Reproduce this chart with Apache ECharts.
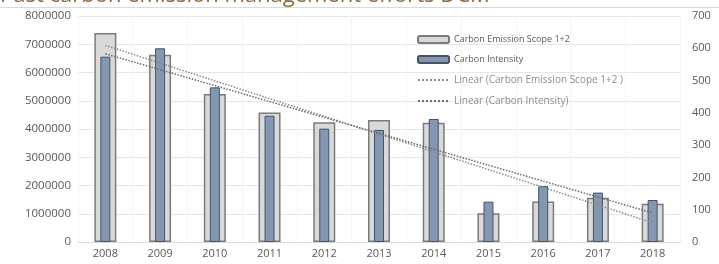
<!DOCTYPE html>
<html>
<head>
<meta charset="utf-8">
<script src="https://cdn.jsdelivr.net/npm/echarts@6/dist/echarts.min.js"></script>
<style>
  html, body { margin: 0; padding: 0; background: #fff; }
  #main { width: 719px; height: 264px; }
</style>
</head>
<body>
<div id="main"></div>
<script>
// years on the x axis
var years = ['2008', '2009', '2010', '2011', '2012', '2013', '2014', '2015', '2016', '2017', '2018'];
// Carbon Emission Scope 1+2 (left axis)
var emission = [7400000, 6630000, 5240000, 4580000, 4240000, 4320000, 4220000, 1020000, 1430000, 1570000, 1350000];
// Carbon Intensity (right axis)
var intensity = [574, 600, 479, 391, 351, 347, 381, 125, 173, 153, 130];
// trend line ends: [first year, last year]
var emissionTrend = [6960000, 680000];
var intensityTrend = [583, 90];
var leftTicks = { min: 0, max: 8000000, interval: 1000000 };
var rightTicks = { min: 0, max: 700, interval: 100 };

var myChart = echarts.init(document.getElementById('main'));
var labelColor = '#595959';
var option = {
    animation: false,
    textStyle: { fontFamily: 'Open Sans' },
    graphic: [
        {
            type: 'text', left: 0, top: -15,
            style: { text: 'Past carbon emission management efforts DCM', fontSize: 22, fill: '#8b6a3c', fontFamily: 'Open Sans' }
        },
        {
            type: 'rect', left: 0, top: 7,
            shape: { width: 719, height: 1 },
            style: { fill: '#e2d8c8' }
        }
    ],
    grid: { left: 78, right: 39, top: 16, bottom: 22 },
    legend: {
        orient: 'vertical',
        left: 412, top: 30,
        itemWidth: 31, itemHeight: 7, itemGap: 11,
        textStyle: { color: labelColor, fontSize: 9 },
        data: [
            { name: 'Carbon Emission Scope 1+2' },
            { name: 'Carbon Intensity' },
            { name: 'Linear (Carbon Emission Scope 1+2 )', itemStyle: { opacity: 0 }, textStyle: { color: '#8c8c8c', fontSize: 10 } },
            { name: 'Linear (Carbon Intensity)', itemStyle: { opacity: 0 }, textStyle: { color: '#8c8c8c', fontSize: 10 } }
        ]
    },
    xAxis: [
        {
            type: 'category', data: years,
            axisLine: { lineStyle: { color: '#d9d9d9' } },
            axisTick: { show: false },
            axisLabel: { color: labelColor, fontSize: 11, margin: 6 },
            splitLine: { show: true, lineStyle: { color: '#f5f5f5' } }
        },
        { type: 'category', data: years, show: false }
    ],
    yAxis: [
        {
            type: 'value', min: leftTicks.min, max: leftTicks.max, interval: leftTicks.interval,
            axisLabel: { color: labelColor, fontSize: 11.5, margin: 7, formatter: function (v) { return String(v); } },
            splitLine: { lineStyle: { color: '#e6e6e6' } }
        },
        {
            type: 'value', min: rightTicks.min, max: rightTicks.max, interval: rightTicks.interval,
            axisLabel: { color: labelColor, fontSize: 11, margin: 12 },
            splitLine: { show: false }
        }
    ],
    series: [
        {
            name: 'Carbon Emission Scope 1+2', type: 'bar',
            xAxisIndex: 0, yAxisIndex: 0, barWidth: 22,
            itemStyle: { color: '#d9d9d9', borderColor: '#7b7b7b', borderWidth: 1.5 },
            data: emission
        },
        {
            name: 'Carbon Intensity', type: 'bar',
            xAxisIndex: 1, yAxisIndex: 1, barWidth: 10,
            itemStyle: { color: '#8496b0', borderColor: '#44546a', borderWidth: 1 },
            data: intensity, z: 3
        },
        {
            name: 'Linear (Carbon Emission Scope 1+2 )', type: 'line',
            xAxisIndex: 0, yAxisIndex: 0, symbol: 'none',
            lineStyle: { color: '#8c8c8c', width: 1.5, type: 'dotted' },
            itemStyle: { color: '#8c8c8c' },
            data: [[years[0], emissionTrend[0]], [years[years.length - 1], emissionTrend[1]]], z: 4
        },
        {
            name: 'Linear (Carbon Intensity)', type: 'line',
            xAxisIndex: 1, yAxisIndex: 1, symbol: 'none',
            lineStyle: { color: '#6a6a6a', width: 1.5, type: 'dotted' },
            itemStyle: { color: '#6a6a6a' },
            data: [[years[0], intensityTrend[0]], [years[years.length - 1], intensityTrend[1]]], z: 4
        }
    ]
};
myChart.setOption(option);
</script>
</body>
</html>
